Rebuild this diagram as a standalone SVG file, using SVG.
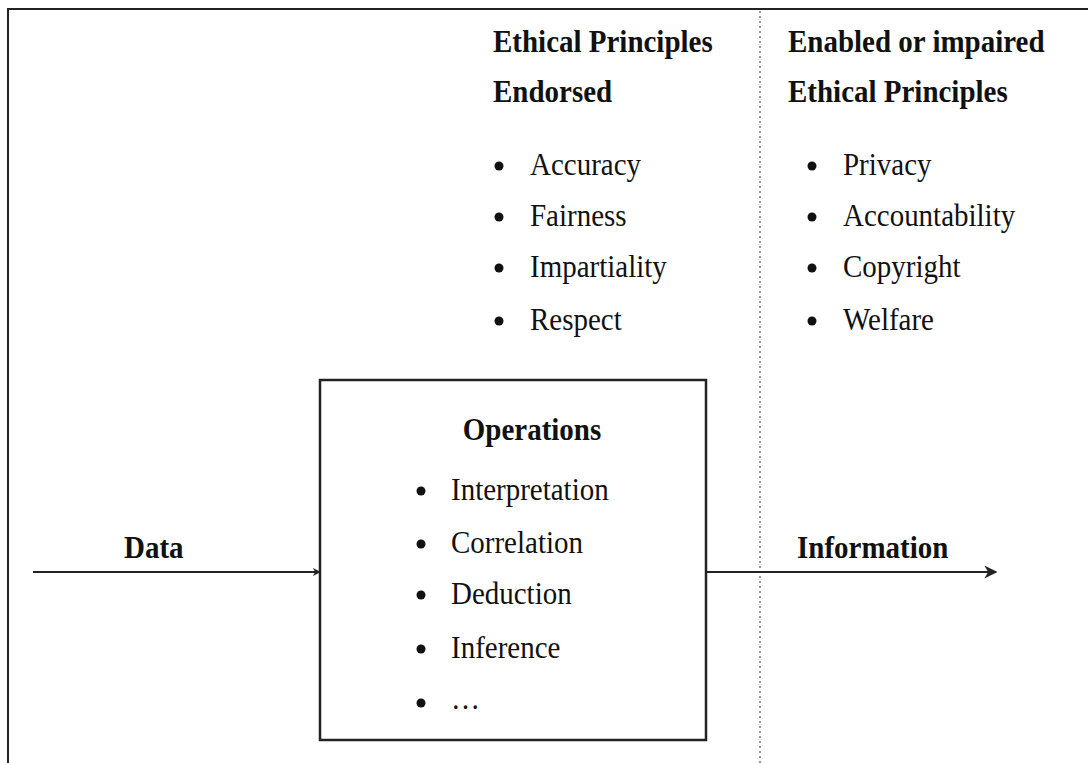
<svg xmlns="http://www.w3.org/2000/svg" width="1088" height="763" viewBox="0 0 1088 763">
<defs>
<style>
.t{font-family:"Liberation Serif","Times New Roman",serif;font-size:29px;fill:#111}
.b{font-weight:bold}
.ln{stroke:#222;stroke-width:2;fill:none}
.d{fill:#111}
</style>
<marker id="ah" viewBox="0 0 10 10" refX="9" refY="5" markerWidth="8" markerHeight="8" orient="auto" markerUnits="userSpaceOnUse"><path d="M0,0 L10,5 L0,10 L3,5 z" fill="#222"/></marker>
<marker id="ah2" viewBox="0 0 10 10" refX="9" refY="5" markerWidth="13" markerHeight="13" orient="auto" markerUnits="userSpaceOnUse"><path d="M0,0 L10,5 L0,10 L3,5 z" fill="#222"/></marker>
</defs>
<rect width="1088" height="763" fill="#fff"/>
<g id="frame">
<path class="ln" d="M8,770 L8,9 L1095,9" stroke-width="2.5"/>
<line x1="760" y1="11" x2="760" y2="763" stroke="#999" stroke-width="2" stroke-dasharray="2,3"/>
</g>
<g id="endorsed">
<g transform="scale(1,1.12)">
<text class="t b" x="493" y="46.4">Ethical Principles</text>
<text class="t b" x="493" y="91.1">Endorsed</text>
<text class="t" x="530" y="156.3">Accuracy</text>
<text class="t" x="530" y="201.8">Fairness</text>
<text class="t" x="530" y="247.3">Impartiality</text>
<text class="t" x="530" y="294.6">Respect</text>
</g>
<circle class="d" cx="499" cy="166" r="4.5"/>
<circle class="d" cx="499" cy="217" r="4.5"/>
<circle class="d" cx="499" cy="268" r="4.5"/>
<circle class="d" cx="499" cy="321" r="4.5"/>
</g>
<g id="enabled">
<g transform="scale(1,1.12)">
<text class="t b" x="788" y="46.4">Enabled or impaired</text>
<text class="t b" x="788" y="91.1">Ethical Principles</text>
<text class="t" x="843" y="156.3">Privacy</text>
<text class="t" x="843" y="201.8">Accountability</text>
<text class="t" x="843" y="247.3">Copyright</text>
<text class="t" x="843" y="294.6">Welfare</text>
</g>
<circle class="d" cx="812" cy="166" r="4.5"/>
<circle class="d" cx="812" cy="217" r="4.5"/>
<circle class="d" cx="812" cy="268" r="4.5"/>
<circle class="d" cx="812" cy="321" r="4.5"/>
</g>
<g id="operations">
<rect x="320" y="380" width="386" height="360" fill="#fff" stroke="#222" stroke-width="2.5"/>
<g transform="scale(1,1.12)">
<text class="t b" x="532" y="392.9" text-anchor="middle">Operations</text>
<text class="t" x="451" y="446.4">Interpretation</text>
<text class="t" x="451" y="493.8">Correlation</text>
<text class="t" x="451" y="539.3">Deduction</text>
<text class="t" x="451" y="587.5">Inference</text>
<text class="t" x="451" y="633">…</text>
</g>
<circle class="d" cx="421" cy="491" r="4.5"/>
<circle class="d" cx="421" cy="544" r="4.5"/>
<circle class="d" cx="421" cy="595" r="4.5"/>
<circle class="d" cx="421" cy="649" r="4.5"/>
<circle class="d" cx="421" cy="703" r="4.5"/>
</g>
<g id="connectors">
<line class="ln" x1="33" y1="572" x2="320" y2="572" marker-end="url(#ah)"/>
<line class="ln" x1="706" y1="572" x2="996" y2="572" marker-end="url(#ah2)"/>
<g transform="scale(1,1.12)">
<text class="t b" x="124" y="498.2">Data</text>
<text class="t b" x="797" y="498.2">Information</text>
</g>
</g>
</svg>
